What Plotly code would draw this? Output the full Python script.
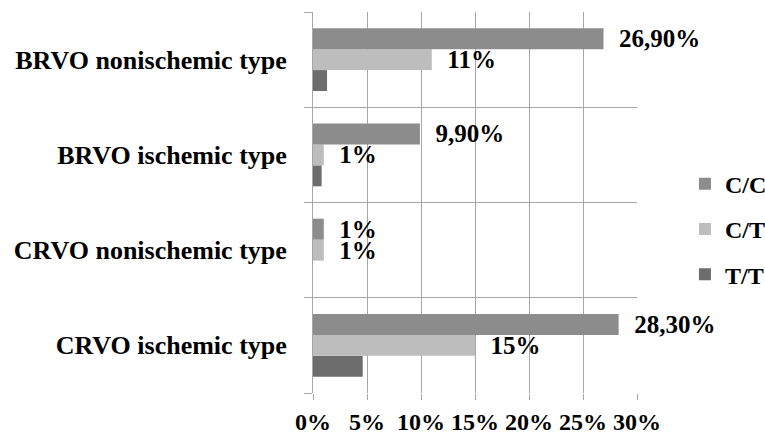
import plotly.graph_objects as go

# Categories, bottom to top
categories = [
    "CRVO ischemic type",
    "CRVO nonischemic type",
    "BRVO ischemic type",
    "BRVO nonischemic type",
]

# Genotype percentages per category
cc_values = [28.3, 1, 9.9, 26.9]
ct_values = [15, 1, 1, 11]
tt_values = [4.6, 0, 0.8, 1.3]

# Value labels shown next to bars
cc_labels = ["28,30%", "1%", "9,90%", "26,90%"]
ct_labels = ["15%", "1%", "1%", "11%"]

x_ticks = [0, 5, 10, 15, 20, 25, 30]
x_tick_text = ["0%", "5%", "10%", "15%", "20%", "25%", "30%"]

FONT = "Liberation Serif"
GRID = "#a6a6a6"
PAD = "\u00a0\u00a0"

# (name, values, labels, colour, legend rank)
series = [
    ("T/T", tt_values, None, "#6d6d6d", 3),
    ("C/T", ct_values, ct_labels, "#bdbdbd", 2),
    ("C/C", cc_values, cc_labels, "#8c8c8c", 1),
]

fig = go.Figure()
for name, vals, labels, color, rank in series:
    fig.add_trace(go.Bar(
        y=categories,
        x=vals,
        name=name,
        orientation="h",
        marker=dict(color=color, line=dict(width=0)),
        text=[PAD + t for t in labels] if labels else None,
        textposition="outside",
        textfont=dict(family=FONT, size=25, color="black", weight="bold"),
        constraintext="none",
        cliponaxis=False,
        legendgroup=name,
        legendrank=rank,
    ))

fig.update_layout(
    width=765,
    height=438,
    margin=dict(l=313, r=128, t=12, b=45, autoexpand=False),
    paper_bgcolor="white",
    plot_bgcolor="white",
    barmode="group",
    bargap=0.34,
    bargroupgap=0,
    font=dict(family=FONT, color="black", weight="bold"),
    legend=dict(
        x=1.148, y=0.43, xanchor="left", yanchor="middle",
        traceorder="grouped",
        tracegroupgap=11,
        font=dict(family=FONT, size=24, color="black", weight="bold"),
        itemwidth=30,
    ),
    xaxis=dict(
        range=[0, 30],
        tickvals=x_ticks,
        ticktext=x_tick_text,
        showgrid=True,
        gridcolor=GRID,
        gridwidth=1,
        zeroline=False,
        showline=False,
        ticks="outside",
        ticklen=6,
        tickcolor=GRID,
        ticklabelstandoff=1,
        tickfont=dict(family=FONT, size=24, color="black", weight="bold"),
        fixedrange=True,
    ),
    yaxis=dict(
        type="category",
        categoryorder="array",
        categoryarray=categories,
        tickson="boundaries",
        showgrid=True,
        gridcolor=GRID,
        gridwidth=1,
        ticks="outside",
        ticklen=8,
        tickcolor=GRID,
        showline=True,
        linecolor=GRID,
        linewidth=1,
        ticklabelstandoff=20,
        tickfont=dict(family=FONT, size=26, color="black", weight="bold"),
        fixedrange=True,
    ),
)

fig.write_html("out.html")
